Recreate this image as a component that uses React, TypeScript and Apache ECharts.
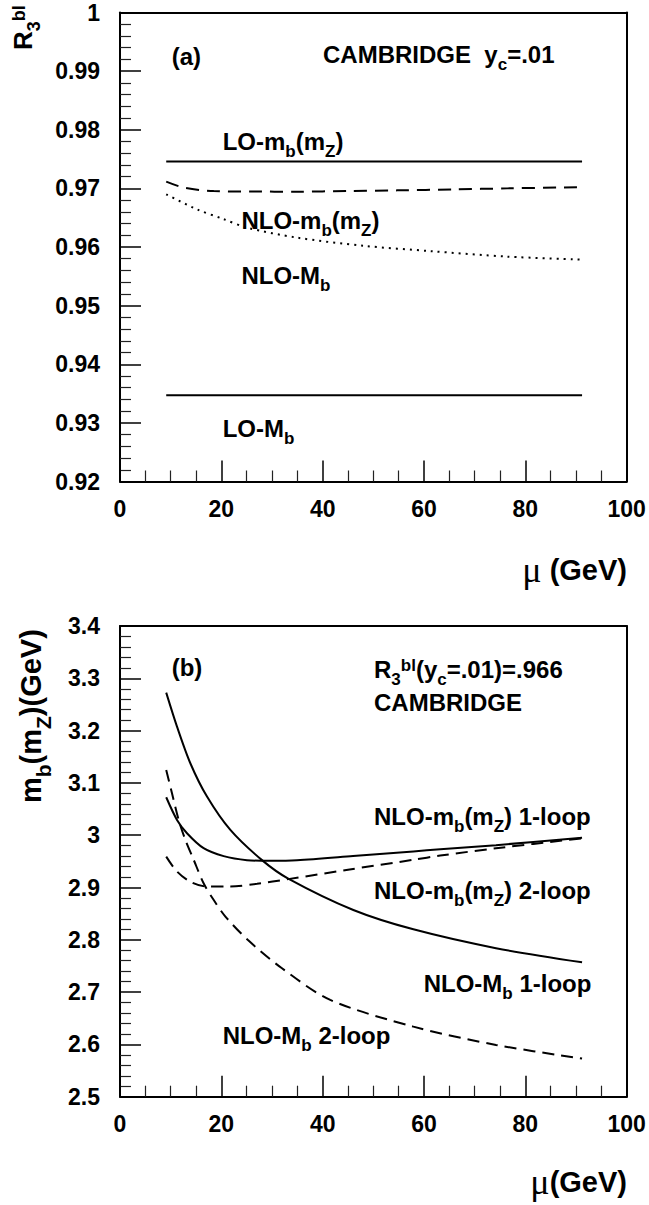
import React, { useEffect, useRef } from "react";
import * as echarts from "echarts";

// ---------- data ----------
const xTicks = [0, 20, 40, 60, 80, 100];

// panel (a): R3bl vs mu
const loMbRunMu = [9.12, 91.19];
const loMbRunVal = [0.9746, 0.9746];
const loMbPoleMu = [9.12, 91.19];
const loMbPoleVal = [0.9347, 0.9347];
const nloMbRunMu = [9.12, 12.6, 18.5, 26, 34.9, 45, 54.7, 66, 76.4, 91.19];
const nloMbRunVal = [0.97114, 0.97012, 0.96954, 0.96946, 0.96944, 0.96955, 0.96966, 0.96983, 0.970, 0.97022];
const nloMbPoleMu = [9.12, 15.2, 20.3, 25.06, 34.9, 48.1, 61.25, 76.4, 91.19];
const nloMbPoleVal = [0.96898, 0.96642, 0.9648, 0.9633, 0.9616, 0.9602, 0.9593, 0.95836, 0.95785];

// panel (b): mb(mZ) vs mu
const run1Mu = [9.12, 11.25, 13.22, 16.5, 20.46, 25.06, 29.67, 34.93, 46, 57.9, 63.2, 74.2, 91.19];
const run1Val = [3.0726, 3.0293, 3.0038, 2.9752, 2.96, 2.9523, 2.951, 2.952, 2.96, 2.969, 2.973, 2.981, 2.995];
const run2Mu = [9.12, 11.25, 13.88, 17.17, 21.78, 27.04, 33.2, 45, 57.9, 63.2, 74.2, 91.19];
const run2Val = [2.959, 2.9305, 2.911, 2.9018, 2.9018, 2.907, 2.916, 2.934, 2.953, 2.961, 2.975, 2.994];
const pole1Mu = [9.12, 11.25, 13.88, 17.17, 21.78, 27.96, 33.2, 46.05, 57.9, 74.2, 91.19];
const pole1Val = [3.2726, 3.2076, 3.1376, 3.0738, 3.01, 2.9528, 2.917, 2.857, 2.82, 2.784, 2.757];
const pole2Mu = [9.12, 10.26, 11.58, 12.9, 14.54, 16.5, 18.5, 20.8, 25.2, 31.9, 41.5, 57.9, 74.2, 91.19];
const pole2Val = [3.1248, 3.08, 3.029, 2.991, 2.953, 2.908, 2.876, 2.8445, 2.8, 2.746, 2.685, 2.634, 2.599, 2.573];

const FONT = '"Liberation Sans", Arial, Helvetica, sans-serif';
const SERIF = '"Liberation Serif", "DejaVu Serif", serif';

function makeRich(scale: number) {
  return {
    sub: { fontSize: Math.round(17 * scale), fontWeight: "bold", fontFamily: FONT, fill: "#000", padding: [Math.round(20 * scale), 0, 0, 0] },
    sup: { fontSize: Math.round(17 * scale), fontWeight: "bold", fontFamily: FONT, fill: "#000", padding: [0, 0, Math.round(8 * scale), 0] },
    mu: { fontSize: Math.round(30 * scale), fontWeight: "normal", fontFamily: SERIF, fill: "#000" },
  };
}

function txt(text: string, x: number, y: number, opts: any = {}) {
  const size = opts.size || 24;
  return {
    type: "text",
    x,
    y,
    rotation: opts.rotation || 0,
    silent: true,
    z: 10,
    style: {
      text,
      fontSize: size,
      fontWeight: "bold",
      fontFamily: FONT,
      fill: "#000",
      align: opts.align || "left",
      verticalAlign: "middle",
      rich: makeRich(size / 24),
    },
  };
}

function zip(a: number[], b: number[]) {
  return a.map((m, i) => [m, b[i]]);
}

function lineSeries(idx: number, mu: number[], vals: number[], dash: any, smooth: number) {
  return {
    type: "line",
    xAxisIndex: idx,
    yAxisIndex: idx,
    data: zip(mu, vals),
    showSymbol: false,
    symbol: "none",
    smooth,
    silent: true,
    lineStyle: { color: "#000", width: 2, type: dash },
  };
}

function xAxis(gridIndex: number) {
  return {
    type: "value",
    gridIndex,
    position: "bottom",
    min: 0,
    max: 100,
    interval: 20,
    axisLine: { show: true, onZero: false, lineStyle: { color: "#000", width: 2 } },
    axisTick: { show: true, inside: true, length: 21, lineStyle: { color: "#000", width: 1.5 } },
    minorTick: { show: true, splitNumber: 4, length: 11, lineStyle: { color: "#222", width: 1.2 } },
    splitLine: { show: false },
    minorSplitLine: { show: false },
    axisLabel: {
      show: true,
      fontSize: 23,
      fontWeight: "bold",
      fontFamily: FONT,
      color: "#000",
      margin: 16,
      formatter: (v: number) => String(xTicks.find((t) => Math.abs(t - v) < 1e-6) ?? Math.round(v)),
    },
  };
}

function yAxis(gridIndex: number, min: number, max: number, interval: number, minorSplit: number, digits: number) {
  return {
    type: "value",
    gridIndex,
    position: "left",
    min,
    max,
    interval,
    axisLine: { show: true, onZero: false, lineStyle: { color: "#000", width: 2 } },
    axisTick: { show: true, inside: true, length: 21, lineStyle: { color: "#000", width: 1.5 } },
    minorTick: { show: true, splitNumber: minorSplit, length: 11, lineStyle: { color: "#222", width: 1.2 } },
    splitLine: { show: false },
    minorSplitLine: { show: false },
    axisLabel: {
      show: true,
      fontSize: 23,
      fontWeight: "bold",
      fontFamily: FONT,
      color: "#000",
      margin: 20,
      formatter: (v: number) => String(Math.round(v * Math.pow(10, digits)) / Math.pow(10, digits)),
    },
  };
}

// frame-only axes (top / right)
function frameAxis(kind: "x" | "y", gridIndex: number, min: number, max: number) {
  return {
    type: "value",
    gridIndex,
    position: kind === "x" ? "top" : "right",
    min,
    max,
    axisLine: { show: true, onZero: false, lineStyle: { color: "#000", width: 2 } },
    axisTick: { show: false },
    minorTick: { show: false },
    axisLabel: { show: false },
    splitLine: { show: false },
  };
}

export default function App() {
  const ref = useRef<HTMLDivElement>(null);
  useEffect(() => {
    if (!ref.current) return;
    const chart = echarts.init(ref.current, null, { renderer: "svg" });
    const gridBase = { show: false, containLabel: false, outerBoundsMode: "none" };
    const option: any = {
      animation: false,
      backgroundColor: "#fff",
      grid: [
        { ...gridBase, left: 120, top: 12.5, width: 506.7, height: 469 },
        { ...gridBase, left: 120, top: 626, width: 506.7, height: 470.7 },
      ],
      xAxis: [xAxis(0), xAxis(1), frameAxis("x", 0, 0, 100), frameAxis("x", 1, 0, 100)],
      yAxis: [
        yAxis(0, 0.92, 1, 0.01, 5, 2),
        yAxis(1, 2.5, 3.4, 0.1, 5, 1),
        frameAxis("y", 0, 0.92, 1),
        frameAxis("y", 1, 2.5, 3.4),
      ],
      series: [
        lineSeries(0, loMbRunMu, loMbRunVal, "solid", 0),
        lineSeries(0, loMbPoleMu, loMbPoleVal, "solid", 0),
        lineSeries(0, nloMbRunMu, nloMbRunVal, [13, 8], 0.3),
        lineSeries(0, nloMbPoleMu, nloMbPoleVal, [2, 5], 0.3),
        lineSeries(1, run1Mu, run1Val, "solid", 0.3),
        lineSeries(1, run2Mu, run2Val, [12, 7], 0.3),
        lineSeries(1, pole1Mu, pole1Val, "solid", 0.3),
        lineSeries(1, pole2Mu, pole2Val, [12, 7], 0.3),
      ],
      graphic: [
        // panel (a)
        txt("R{sub|3}{sup|bl}", 23, 50, { rotation: Math.PI / 2, size: 26 }),
        txt("(a)", 171.7, 56),
        txt("CAMBRIDGE  y{sub|c}=.01", 323, 54),
        txt("LO-m{sub|b}(m{sub|Z})", 222.7, 141.7),
        txt("NLO-m{sub|b}(m{sub|Z})", 241.4, 220),
        txt("NLO-M{sub|b}", 241.4, 275.7),
        txt("LO-M{sub|b}", 222.7, 428.3),
        txt("{mu|μ} (GeV)", 627, 570, { align: "right", size: 29 }),
        // panel (b)
        txt("m{sub|b}(m{sub|Z})(GeV)", 31, 803, { rotation: Math.PI / 2, size: 29 }),
        txt("(b)", 171.7, 667),
        txt("R{sub|3}{sup|bl}(y{sub|c}=.01)=.966", 374, 669),
        txt("CAMBRIDGE", 374, 702.5),
        txt("NLO-m{sub|b}(m{sub|Z}) 1-loop", 374, 816.7),
        txt("NLO-m{sub|b}(m{sub|Z}) 2-loop", 374, 890),
        txt("NLO-M{sub|b} 1-loop", 423.7, 983.3),
        txt("NLO-M{sub|b} 2-loop", 222.7, 1035.8),
        txt("{mu|μ}(GeV)", 627, 1182, { align: "right", size: 29 }),
      ],
    };
    chart.setOption(option);
    return () => chart.dispose();
  }, []);
  return (
    <div
      ref={ref}
      style={{ position: "absolute", left: 0, top: 0, width: 649, height: 1205, background: "#fff" }}
    />
  );
}
